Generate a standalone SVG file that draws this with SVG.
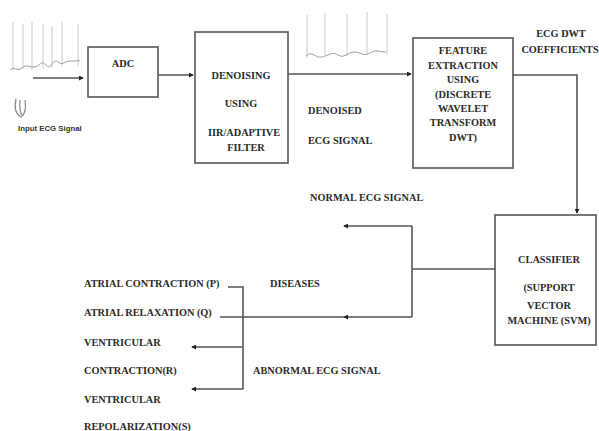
<svg xmlns="http://www.w3.org/2000/svg" width="599" height="431" viewBox="0 0 599 431">
<defs>
<marker id="ah" viewBox="0 0 6 6" refX="5" refY="3" markerWidth="5" markerHeight="5" orient="auto" markerUnits="userSpaceOnUse">
<path d="M0,0 L6,3 L0,6 z" fill="#222"/>
</marker>
</defs>
<style>
.box{fill:#fff;stroke:#555;stroke-width:1.6}
.t{font-family:"Liberation Serif",serif;font-weight:bold;font-size:10.3px;fill:#2a2a2a}
.c{text-anchor:middle}
.ln{fill:none;stroke:#555;stroke-width:1.6}
.wv{fill:none;stroke:#bbb;stroke-width:0.8}
</style>
<rect width="599" height="431" fill="#fff"/>
<g id="input-signal">
<path class="wv" d="M13,22 V70 M23,24 V69 M32,22 V70 M43,24 V68 M52,26 V68 M62,22 V66 M78,24 V66"/>
<path d="M10,70 q3,-3 6,-1 t6,-1 t6,-2 t6,1 t6,-3 t6,1 t6,-1 t6,-2 t6,1 t6,-2 t6,0 t4,-1" fill="none" stroke="#999" stroke-width="0.9"/>
<path d="M16,99 q-3,14 5,18 q6,-4 4,-17 M20,100 q-1,10 2,15" fill="none" stroke="#888" stroke-width="1.2"/>
<text x="18" y="131" style="font-family:'Liberation Sans',sans-serif;font-size:7.8px;fill:#333;font-weight:bold">Input ECG Signal</text>
</g>
<g id="denoised-signal">
<path class="wv" d="M307,15 V58 M325,13 V55 M347,14 V56 M367,12 V55 M387,14 V55"/>
<path d="M306,56 q4,-4 8,-1 t8,2 t8,-3 t8,1 t8,0 t8,-3 t8,2 t8,-1 t8,-2 t8,1" fill="none" stroke="#999" stroke-width="0.9"/>
</g>
<g id="adc">
<rect class="box" x="88" y="47" width="70" height="50"/>
<text class="t c" x="123" y="67">ADC</text>
</g>
<g id="denoising">
<rect class="box" x="195" y="32" width="93" height="131"/>
<text class="t c" x="241" y="79">DENOISING</text>
<text class="t c" x="241" y="107">USING</text>
<text class="t c" x="244" y="136">IIR/ADAPTIVE</text>
<text class="t c" x="246" y="151">FILTER</text>
</g>
<g id="feature">
<rect class="box" x="413" y="38" width="100" height="130"/>
<text class="t c" x="463" y="54">FEATURE</text>
<text class="t c" x="463" y="69">EXTRACTION</text>
<text class="t c" x="463" y="83">USING</text>
<text class="t c" x="463" y="98">(DISCRETE</text>
<text class="t c" x="463" y="112">WAVELET</text>
<text class="t c" x="463" y="126">TRANSFORM</text>
<text class="t c" x="463" y="141">DWT)</text>
</g>
<g id="classifier">
<rect class="box" x="495" y="215" width="101" height="130"/>
<text class="t c" x="549" y="263">CLASSIFIER</text>
<text class="t c" x="549" y="291">(SUPPORT</text>
<text class="t c" x="549" y="309">VECTOR</text>
<text class="t c" x="549" y="324">MACHINE (SVM)</text>
</g>
<g id="labels">
<text class="t" x="308" y="114">DENOISED</text>
<text class="t" x="308" y="144">ECG SIGNAL</text>
<text class="t c" x="561" y="37">ECG DWT</text>
<text class="t c" x="560" y="53">COEFFICIENTS</text>
<text class="t" x="310" y="201">NORMAL ECG SIGNAL</text>
<text class="t" x="270" y="287">DISEASES</text>
<text class="t" x="253" y="374">ABNORMAL ECG SIGNAL</text>
<text class="t" x="84" y="287">ATRIAL CONTRACTION (P)</text>
<text class="t" x="84" y="316">ATRIAL RELAXATION (Q)</text>
<text class="t" x="84" y="346">VENTRICULAR</text>
<text class="t" x="84" y="374">CONTRACTION(R)</text>
<text class="t" x="84" y="403">VENTRICULAR</text>
<text class="t" x="84" y="430">REPOLARIZATION(S)</text>
</g>
<g id="connectors">
<path class="ln" d="M33,78 H83" stroke-width="1.2" marker-end="url(#ah)"/>
<path class="ln" d="M158,75 H193" marker-end="url(#ah)"/>
<path class="ln" d="M288,74 H411" stroke-width="2.6" marker-end="url(#ah)"/>
<path class="ln" d="M513,75 H577 V213" marker-end="url(#ah)"/>
<path class="ln" d="M495,269 H412"/>
<path class="ln" d="M412,226 V317"/>
<path class="ln" d="M412,226 H344" marker-end="url(#ah)"/>
<path class="ln" d="M412,317 H344" marker-end="url(#ah)"/>
<path class="ln" d="M344,317 H220"/>
<path class="ln" d="M228,287 H243 V389"/>
<path class="ln" d="M243,347 H192" marker-end="url(#ah)"/>
<path class="ln" d="M243,389 H192" marker-end="url(#ah)"/>
</g>
</svg>
